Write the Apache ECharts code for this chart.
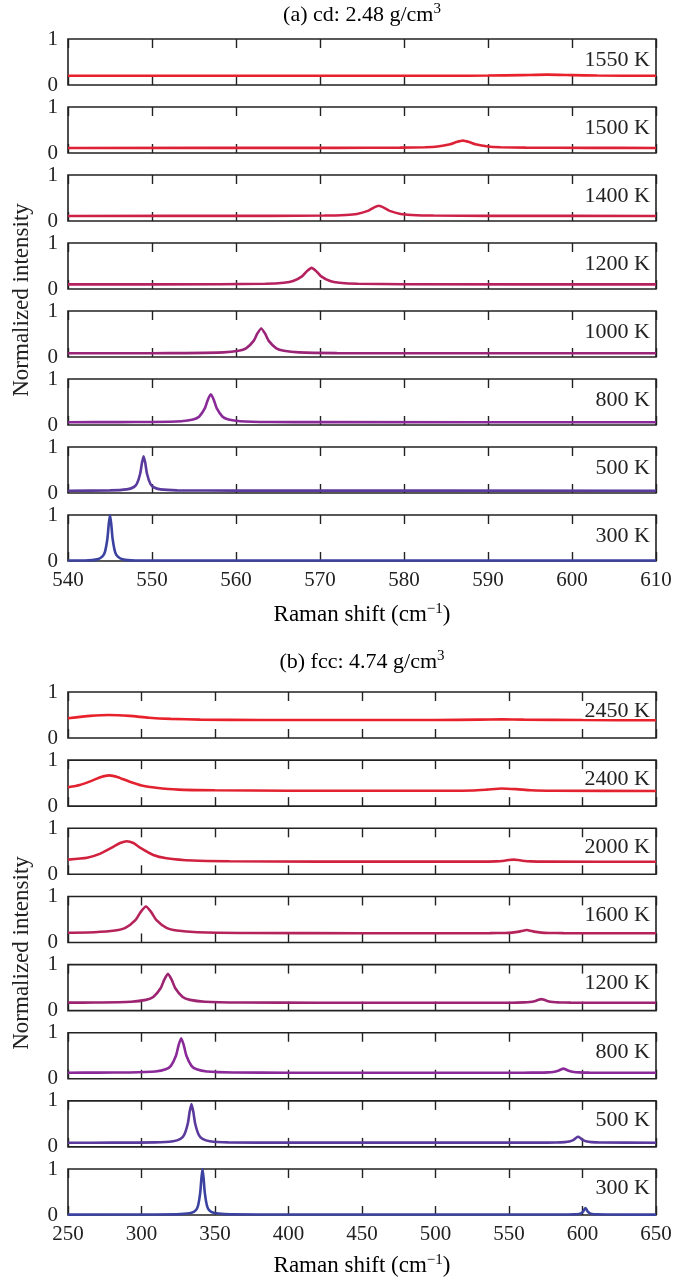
<!DOCTYPE html>
<html><head><meta charset="utf-8">
<script src="https://cdn.jsdelivr.net/npm/echarts@6/dist/echarts.min.js"></script>
<style>html,body{margin:0;padding:0;background:#fff}#c{width:689px;height:1284px}</style>
</head><body><div id="c"></div>
<script>
// ---------- Panel (a): cd 2.48 g/cm3 ----------
const aLabels = ['1550 K','1500 K','1400 K','1200 K','1000 K','800 K','500 K','300 K'];
const aXTicks = [540,550,560,570,580,590,600,610];
const a1550 = [[540,0.2],[585,0.2],[590,0.205],[594,0.215],[597,0.225],[600,0.215],[603,0.205],[610,0.2]];
const a1500 = [[540,0.11],[572,0.112],[579.5,0.116],[582.5,0.126],[584,0.142],[585.5,0.19],[586.25,0.238],[587,0.27],[587.75,0.238],[588.5,0.19],[590,0.142],[591.5,0.126],[594.5,0.116],[602,0.112],[610,0.11]];
const a1400 = [[540,0.11],[564,0.112],[570.5,0.118],[573.1,0.132],[574.4,0.154],[575.7,0.22],[576.35,0.286],[577,0.33],[577.65,0.286],[578.3,0.22],[579.6,0.154],[580.9,0.132],[583.5,0.118],[590,0.112],[610,0.11]];
const a1200 = [[540,0.1],[558,0.104],[563.5,0.114],[565.7,0.136],[566.8,0.172],[567.9,0.28],[568.45,0.388],[569,0.46],[569.55,0.388],[570.1,0.28],[571.2,0.172],[572.3,0.136],[574.5,0.114],[580,0.104],[610,0.1]];
const a1000 = [[540,0.08],[550,0.083],[554,0.085],[558.5,0.1],[560.3,0.134],[561.2,0.188],[562.1,0.35],[562.55,0.512],[563,0.62],[563.45,0.512],[563.9,0.35],[564.8,0.188],[565.7,0.134],[567.5,0.1],[572,0.085],[580,0.082],[610,0.08]];
const a800 = [[540,0.06],[546,0.063],[550,0.066],[553.5,0.083],[554.9,0.12],[555.6,0.18],[556.3,0.365],[556.65,0.55],[557,0.67],[557.35,0.55],[557.7,0.365],[558.4,0.18],[559.1,0.12],[560.5,0.083],[564,0.066],[570,0.062],[610,0.06]];
const a500 = [[540,0.05],[545,0.056],[547,0.078],[547.8,0.125],[548.2,0.2],[548.6,0.425],[548.8,0.65],[549,0.8],[549.2,0.65],[549.4,0.425],[549.8,0.2],[550.2,0.125],[551,0.078],[553,0.058],[560,0.052],[610,0.05]];
const a300 = [[540,0.01],[542,0.012],[543.5,0.035],[544.1,0.1],[544.4,0.2],[544.7,0.5],[544.85,0.8],[545,1.0],[545.15,0.8],[545.3,0.5],[545.6,0.2],[545.9,0.1],[546.5,0.035],[548,0.012],[555,0.01],[610,0.01]];

// ---------- Panel (b): fcc 4.74 g/cm3 ----------
const bLabels = ['2450 K','2400 K','2000 K','1600 K','1200 K','800 K','500 K','300 K'];
const bXTicks = [250,300,350,400,450,500,550,600,650];
const b2450 = [[250,0.43],[265,0.48],[278,0.5],[292,0.48],[305,0.44],[320,0.415],[340,0.4],[380,0.39],[500,0.39],[530,0.4],[545,0.405],[560,0.4],[600,0.39],[650,0.385]];
const b2400 = [[250,0.41],[258,0.46],[266,0.55],[272,0.63],[278,0.67],[284,0.63],[292,0.53],[300,0.45],[310,0.4],[325,0.36],[350,0.345],[400,0.335],[500,0.335],[525,0.34],[535,0.36],[545,0.385],[555,0.37],[565,0.345],[580,0.335],[650,0.33]];
const b2000 = [[250,0.32],[263,0.36],[272,0.45],[281,0.6],[285.5,0.68],[290,0.72],[294.5,0.68],[299,0.58],[308,0.42],[317,0.35],[335,0.3],[360,0.285],[420,0.275],[530,0.275],[541,0.28],[547,0.295],[550,0.31],[553,0.32],[556,0.31],[559,0.295],[565,0.28],[575,0.275],[650,0.272]];
const b1600 = [[250,0.212],[268,0.222],[282,0.258],[289,0.316],[296,0.49],[299.5,0.664],[303,0.78],[306.5,0.664],[310,0.49],[317,0.316],[324,0.258],[338,0.222],[373,0.206],[450,0.2],[537,0.203],[547,0.207],[552,0.214],[557,0.235],[559.5,0.256],[562,0.27],[564.5,0.256],[567,0.235],[572,0.214],[577,0.207],[587,0.203],[650,0.2]];
const b1200 = [[250,0.173],[268,0.176],[293,0.194],[303,0.233],[308,0.296],[313,0.485],[315.5,0.674],[318,0.8],[320.5,0.674],[323,0.485],[328,0.296],[333,0.233],[343,0.194],[368,0.176],[420,0.171],[552,0.172],[560,0.178],[564,0.186],[568,0.21],[570,0.234],[572,0.25],[574,0.234],[576,0.21],[580,0.186],[584,0.178],[592,0.173],[650,0.17]];
const b800 = [[250,0.13],[270,0.134],[292,0.137],[309.5,0.159],[316.5,0.205],[320,0.28],[323.5,0.505],[325.25,0.73],[327,0.88],[328.75,0.73],[330.5,0.505],[334,0.28],[337.5,0.205],[344.5,0.159],[362,0.137],[400,0.132],[560,0.132],[569.5,0.134],[576.5,0.139],[580,0.148],[583.5,0.175],[585.25,0.202],[587,0.22],[588.75,0.202],[590.5,0.175],[594,0.148],[597.5,0.139],[604.5,0.134],[650,0.13]];
const b500 = [[250,0.09],[280,0.093],[309,0.098],[321.5,0.122],[326.5,0.174],[329,0.258],[331.5,0.51],[332.75,0.762],[334,0.93],[335.25,0.762],[336.5,0.51],[339,0.258],[341.5,0.174],[346.5,0.122],[359,0.098],[400,0.092],[570,0.092],[582,0.095],[588,0.103],[591,0.116],[594,0.155],[595.5,0.194],[597,0.22],[598.5,0.194],[600,0.155],[603,0.116],[606,0.103],[612,0.095],[650,0.09]];
const b300 = [[250,0.01],[310,0.012],[326.5,0.02],[334,0.048],[337,0.109],[338.5,0.208],[340,0.505],[340.75,0.8],[341.5,1.0],[342.25,0.8],[343,0.505],[344.5,0.208],[346,0.109],[349,0.048],[356.5,0.02],[380,0.012],[590,0.012],[594.5,0.015],[597.5,0.024],[599,0.038],[600.5,0.08],[601.25,0.122],[602,0.15],[602.75,0.122],[603.5,0.08],[605,0.038],[606.5,0.024],[609.5,0.015],[620,0.011],[650,0.01]];

const aColors = ['#e8212b','#dd2236','#cd2148','#b6215f','#9a2478','#8a2a98','#5a3a9c','#3b42a0'];
const bColors = ['#e8212b','#e2222f','#d0213f','#b6225a','#9c2470','#8a2a98','#5a3a9c','#3b42a0'];

const aData = [a1550,a1500,a1400,a1200,a1000,a800,a500,a300];
const bData = [b2450,b2400,b2000,b1600,b1200,b800,b500,b300];

const chart = echarts.init(document.getElementById('c'), null, {renderer:'canvas'});
const FONT = '"Liberation Serif","Times New Roman",serif';
const INK = '#222';
const L = 68, W = 588;
const grids = [], xAxes = [], yAxes = [], series = [], graphics = [];

function addPanel(data, labels, colors, ticks, top0, step, h, labOff) {
  const mn = ticks[0], mx = ticks[ticks.length-1], iv = ticks[1]-ticks[0];
  data.forEach((d, i) => {
    const gi = grids.length;
    const top = top0 + step*i;
    grids.push({left:L, width:W, top:top, height:h, show:true, borderColor:INK, borderWidth:1.6, backgroundColor:'transparent'});
    const last = i === data.length-1;
    const tick = {show:true, inside:true, length:9, lineStyle:{color:INK, width:1.4}};
    xAxes.push({gridIndex:gi, type:'value', min:mn, max:mx, interval:iv, position:'bottom',
      axisLine:{show:false}, axisTick:tick, splitLine:{show:false},
      axisLabel:{show:last, fontFamily:FONT, fontSize:21, color:INK, margin:9}});
    xAxes.push({gridIndex:gi, type:'value', min:mn, max:mx, interval:iv, position:'top',
      axisLine:{show:false}, axisTick:tick, splitLine:{show:false}, axisLabel:{show:false}});
    yAxes.push({gridIndex:gi, type:'value', min:0, max:1, interval:1,
      axisLine:{show:false}, axisTick:{show:false}, splitLine:{show:false},
      axisLabel:{fontFamily:FONT, fontSize:21, color:INK, margin:10}});
    series.push({type:'line', xAxisIndex:2*gi, yAxisIndex:gi, data:d, showSymbol:false, smooth:0.2,
      lineStyle:{color:colors[i], width:2.6}, itemStyle:{color:colors[i]}, animation:false});
    graphics.push({type:'text', x:L+W-6, y:top+labOff,
      style:{text:labels[i], font:'22px ' + FONT, fill:INK, align:'right', verticalAlign:'middle'}});
  });
}
addPanel(aData, aLabels, aColors, aXTicks, 39, 68, 46, 21);
addPanel(bData, bLabels, bColors, bXTicks, 692, 68.15, 46, 19);

function richText(x, y, parts, fs, ss) {
  return {type:'text', x:x, y:y,
    style:{text: parts, align:'center', verticalAlign:'middle',
      rich:{m:{fontFamily:FONT, fontSize:fs, color:INK}, s:{fontFamily:FONT, fontSize:ss, color:INK, padding:[0,0,Math.round(fs*0.5),0]}}}};
}
const cx = L + W/2;
graphics.push(richText(cx, 15, '{m|(a) cd: 2.48 g/cm}{s|3}', 22, 15));
graphics.push(richText(cx, 615, '{m|Raman shift (cm}{s|\u22121}{m|)}', 23, 15));
graphics.push(richText(cx, 662, '{m|(b) fcc: 4.74 g/cm}{s|3}', 22, 15));
graphics.push(richText(cx, 1266, '{m|Raman shift (cm}{s|\u22121}{m|)}', 23, 15));
graphics.push({type:'text', x:22, y:300, rotation:Math.PI/2,
  style:{text:'Normalized intensity', font:'23px ' + FONT, fill:INK, align:'center', verticalAlign:'middle'}});
graphics.push({type:'text', x:22, y:953, rotation:Math.PI/2,
  style:{text:'Normalized intensity', font:'23px ' + FONT, fill:INK, align:'center', verticalAlign:'middle'}});

chart.setOption({animation:false, backgroundColor:'#fff', grid:grids, xAxis:xAxes, yAxis:yAxes, series:series, graphic:graphics});
</script></body></html>
